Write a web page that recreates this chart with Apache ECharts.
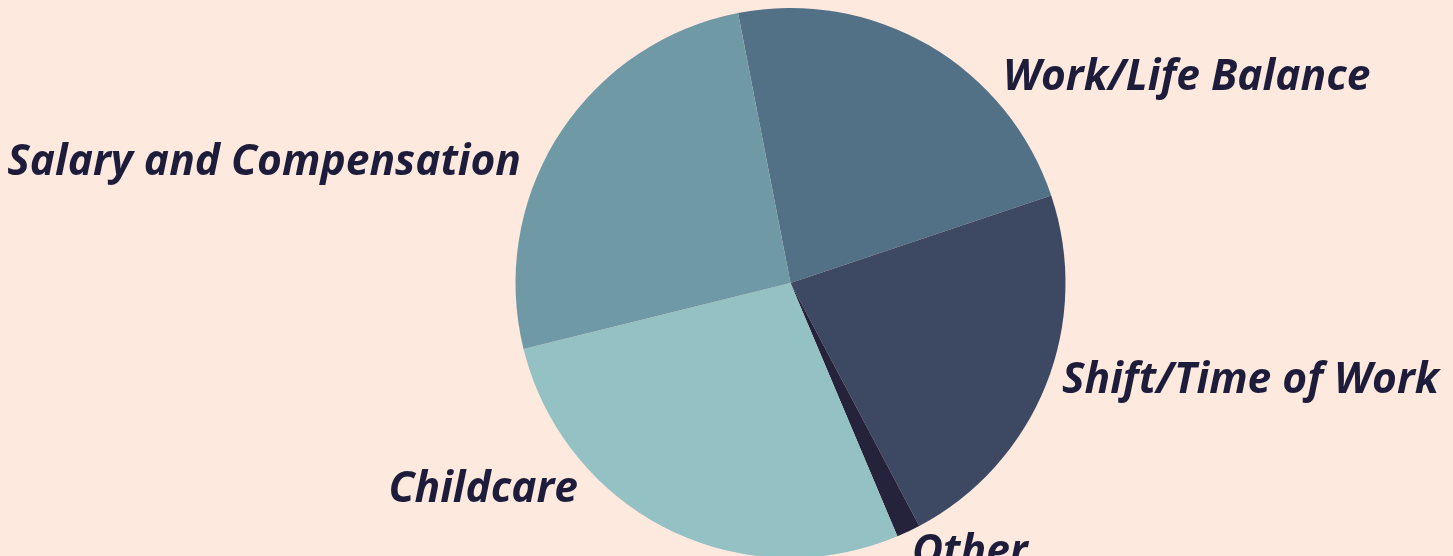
<!DOCTYPE html>
<html><head><meta charset="utf-8">
<script src="https://cdn.jsdelivr.net/npm/echarts@6/dist/echarts.min.js"></script>
<style>html,body{margin:0;padding:0;background:#fee9df;}#c{width:1453px;height:556px;}</style>
</head><body><div id="c"></div>
<script>
const categories = ['Work/Life Balance', 'Shift/Time of Work', 'Other', 'Childcare', 'Salary and Compensation'];
const values = [22.9, 22.4, 1.4, 27.5, 25.8];
const colors = ['#537186', '#3d4963', '#25223b', '#94c1c4', '#7099a6'];
// label anchor placements [x, y, align]
const labelPlace = [[1003, 78, 'left'], [1062, 381, 'left'], [912, 553, 'left'], [578, 490, 'right'], [521, 163, 'right']];

const chart = echarts.init(document.getElementById('c'));
chart.setOption({
  backgroundColor: '#fee9df',
  animation: false,
  series: [{
    type: 'pie',
    center: [790.5, 283],
    radius: 275,
    startAngle: 101,
    clockwise: true,
    avoidLabelOverlap: false,
    data: categories.map((n, i) => ({ name: n, value: values[i], itemStyle: { color: colors[i] } })),
    label: {
      show: true, position: 'outside', formatter: '{b}',
      color: '#1d1d3b', fontFamily: 'Open Sans', fontWeight: 'bold', fontStyle: 'italic', fontSize: 42.5
    },
    labelLine: { show: false },
    labelLayout: function (p) {
      const lp = labelPlace[p.dataIndex];
      return { x: lp[0], y: lp[1], align: lp[2], verticalAlign: 'middle' };
    }
  }]
});
</script></body></html>
